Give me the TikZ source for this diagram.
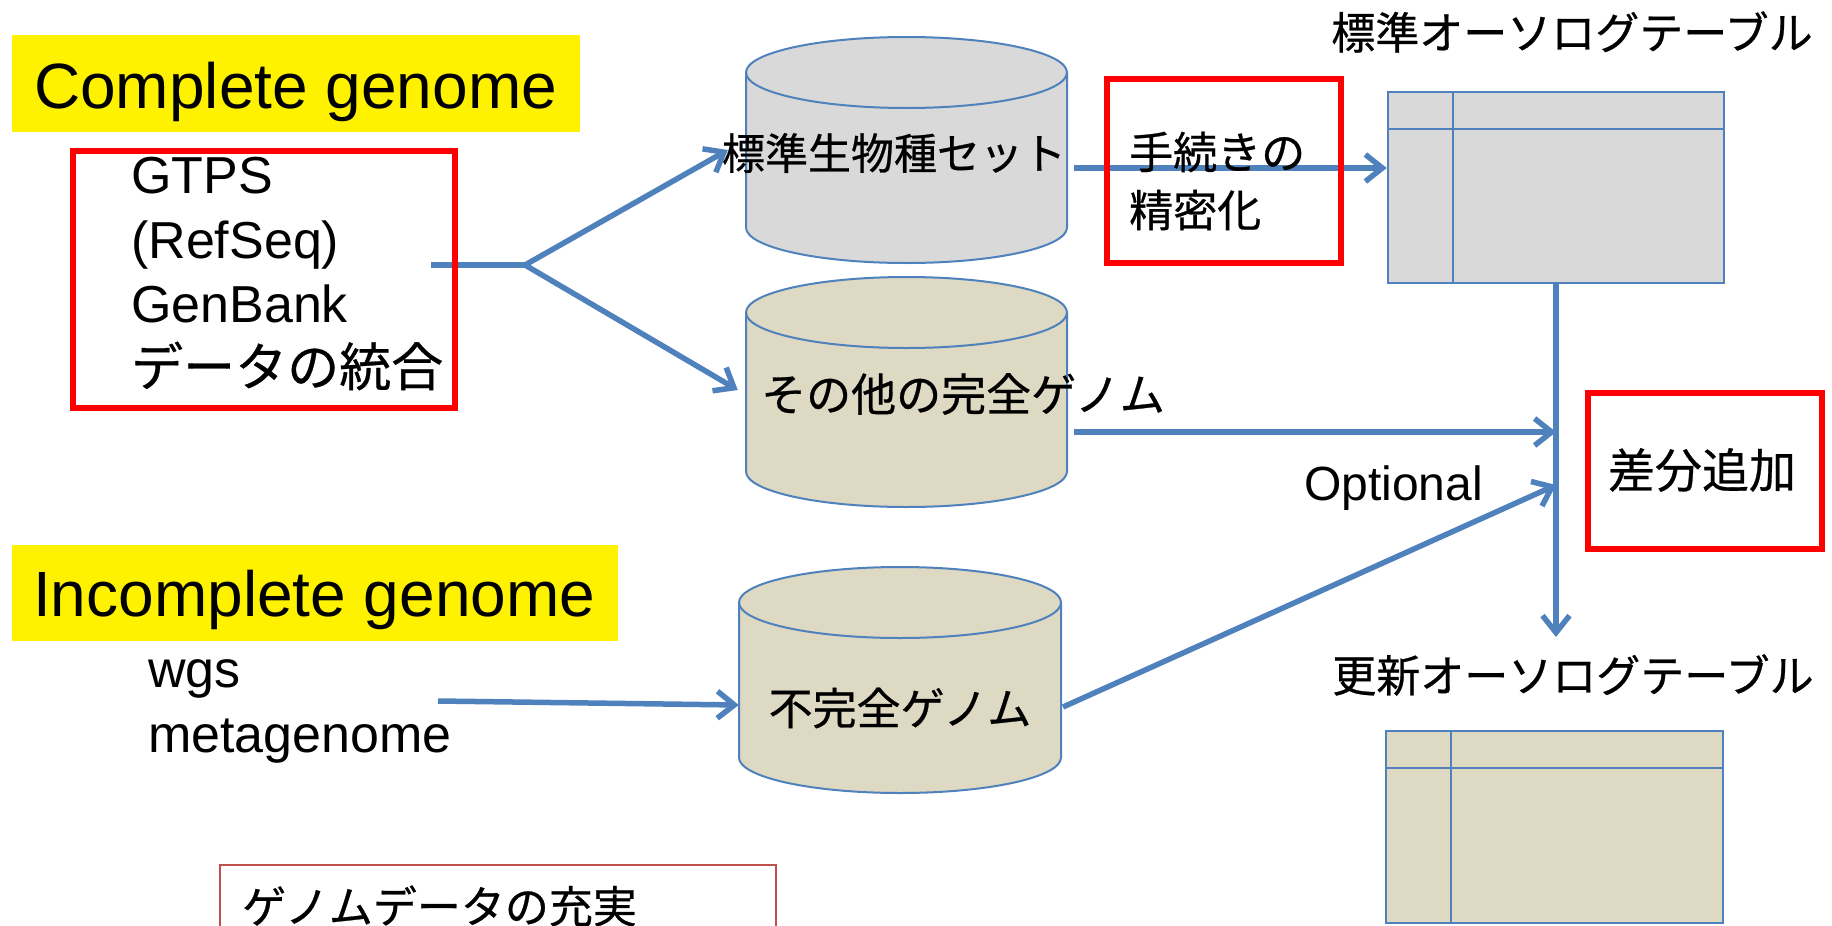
\documentclass[tikz,border=0pt]{standalone}
\usepackage{fontspec}
\setmainfont{Liberation Sans}
\newfontfamily\jpfont{Noto Sans CJK JP}[FakeBold=0.6]
\usetikzlibrary{arrows.meta,calc}
\definecolor{lineblue}{HTML}{4F81BD}
\definecolor{cylgray}{HTML}{D9D9D9}
\definecolor{cyltan}{HTML}{DDD9C3}
\definecolor{softred}{HTML}{C0504D}
\newcommand{\pxsize}[1]{\fontsize{#1}{#1}\selectfont}
\newcommand{\dbcylinder}[5]{%
  \pgfmathsetmacro\cylrx{(#2-#1)/2}%
  \pgfmathsetmacro\cyltop{#3-35.5}%
  \pgfmathsetmacro\cylbot{#4+35.5}%
  \filldraw[cylline,fill=#5] (#1,\cyltop) -- (#1,\cylbot)
    arc[start angle=180,end angle=360,x radius=\cylrx,y radius=35.5]
    -- (#2,\cyltop)
    arc[start angle=0,end angle=180,x radius=\cylrx,y radius=35.5] -- cycle;
  \draw[cylline] (#1,\cyltop) arc[start angle=180,end angle=360,x radius=\cylrx,y radius=35.5];
}
\begin{document}
\begin{tikzpicture}[x=1pt,y=1pt,
  conn/.style={draw=lineblue,line width=5.5pt},
  arr/.style={conn,-{Straight Barb[length=17pt,width=27pt]}},
  redbox/.style={draw=red,line width=6pt,inner sep=0pt},
  yellowbox/.style={fill=yellow,inner sep=0pt},
  cylline/.style={draw=lineblue,line width=2pt},
  tabbox/.style={draw=lineblue,line width=2.5pt,inner sep=0pt},
  tabline/.style={draw=lineblue,line width=2.5pt},
  lat/.style={inner sep=0pt,anchor=base west},
  jp/.style={inner sep=0pt,font=\jpfont\pxsize{44}},
  hole/.style={inner sep=0pt,draw=none}]
\clip (0,0) rectangle (1832,-926);

% yellow headers
\node[yellowbox,minimum width=568,minimum height=97] (y1) at (296,-83.5) {};
\node[lat,font=\pxsize{64}] (cg) at (34,-108) {Complete genome};
\node[yellowbox,minimum width=606,minimum height=96] (y2) at (315,-593) {};
\node[lat,font=\pxsize{64}] (icg) at (33,-616) {Incomplete genome};

% cylinders
\dbcylinder{746}{1067}{-37}{-263}{cylgray}
\node[hole,minimum width=321,minimum height=226] (cyl1) at (906.5,-150) {};
\dbcylinder{746}{1067}{-277}{-507}{cyltan}
\node[hole,minimum width=321,minimum height=230] (cyl2) at (906.5,-392) {};
\dbcylinder{739}{1061}{-567}{-793}{cyltan}
\node[hole,minimum width=322,minimum height=226] (cyl3) at (900,-680) {};

% tables
\node[tabbox,fill=cylgray,minimum width=336,minimum height=191] (tab1) at (1556,-187.5) {};
\draw[tabline] ($(tab1.north west)+(66,0)$) -- ($(tab1.south west)+(66,0)$);
\draw[tabline] ($(tab1.north west)+(0,-38)$) -- ($(tab1.north east)+(0,-38)$);
\node[tabbox,fill=cyltan,minimum width=337,minimum height=192] (tab2) at (1554.5,-827) {};
\draw[tabline] ($(tab2.north west)+(66,0)$) -- ($(tab2.south west)+(66,0)$);
\draw[tabline] ($(tab2.north west)+(0,-38)$) -- ($(tab2.north east)+(0,-38)$);

% connectors
\coordinate (src1) at (431,-265);
\coordinate (jn) at (525,-265);
\draw[conn] (src1) -- (jn);
\draw[arr] (jn) -- ($(cyl1.west)+(-18,0)$);
\draw[arr] (jn) -- ($(cyl2.west)+(-8,2)$);
\coordinate (b1) at (1074,-168);
\draw[arr] (b1) -- (b1 -| tab1.west);
\coordinate (vt) at (1556,-637);
\draw[arr] (tab1.south) -- (vt);
\coordinate (d1) at (1074,-432);
\draw[arr] (d1) -- (d1 -| tab1.south);
\coordinate (e1) at (1063,-707);
\coordinate (e2) at (1556,-485);
\draw[arr] (e1) -- (e2);
\coordinate (f1) at (438,-701);
\draw[arr] (f1) -- ($(cyl3.west)+(0,-25)$);

% red boxes
\node[redbox,minimum width=382,minimum height=257] (box1) at (263.5,-279) {};
\node[redbox,minimum width=234,minimum height=184] (box2) at (1223.5,-170.5) {};
\node[redbox,minimum width=234,minimum height=156] (box3) at (1704.5,-470.5) {};

% texts
\node[lat,font=\pxsize{52}] (t1) at (131,-193) {GTPS};
\node[lat,font=\pxsize{52}] (t2) at (131,-258) {(RefSeq)};
\node[lat,font=\pxsize{52}] (t3) at (131,-322) {GenBank};
\node[inner sep=0pt,anchor=west,font=\jpfont\pxsize{52}] (t4) at (131,-366) {データの統合};

\node[jp,font=\jpfont\pxsize{43}] (c1t) at (894,-153) {標準生物種セット};
\node[jp,font=\jpfont\pxsize{45}] (c2t) at (963,-394) {その他の完全ゲノム};
\node[jp] (c3t) at (900,-708) {不完全ゲノム};

\node[jp,anchor=west] (p1) at (1129,-152) {手続きの};
\node[jp,anchor=west] (p2) at (1129,-210) {精密化};

\node[jp] (title1) at (1572,-32) {標準オーソログテーブル};
\node[jp] (title2) at (1573,-675) {更新オーソログテーブル};

\node[jp,font=\jpfont\pxsize{47}] (diff) at (1702,-470) {差分追加};
\node[lat,font=\pxsize{48}] (opt) at (1304,-500) {Optional};

\node[lat,font=\pxsize{52}] (w1) at (148,-687) {wgs};
\node[lat,font=\pxsize{52}] (w2) at (148,-752) {metagenome};

% bottom box
\node[draw=softred,line width=2pt,inner sep=0pt,minimum width=556,minimum height=100] (bot) at (498,-915) {};
\node[jp,anchor=west] (bott) at (242,-906) {ゲノムデータの充実};
\end{tikzpicture}
\end{document}
